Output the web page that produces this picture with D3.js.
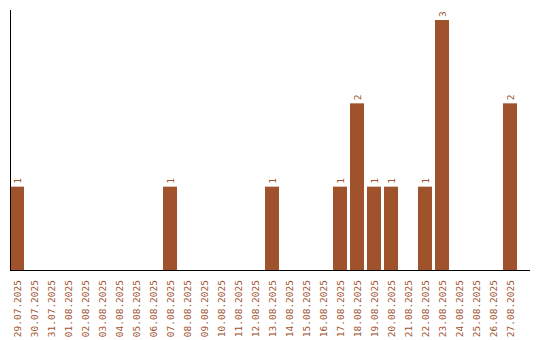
<!DOCTYPE html>
<html>
<head>
<meta charset="utf-8">
<script src="https://cdn.jsdelivr.net/npm/d3@7"></script>
<style>
  body { margin: 0; background: #fff; }
  svg text { font-family: "DejaVu Sans Mono", monospace; font-size: 9.5px; fill: #a0522d; }
</style>
</head>
<body>
<div id="chart"></div>
<script>
const dates = [
  '29.07.2025', '30.07.2025', '31.07.2025', '01.08.2025', '02.08.2025', '03.08.2025',
  '04.08.2025', '05.08.2025', '06.08.2025', '07.08.2025', '08.08.2025', '09.08.2025',
  '10.08.2025', '11.08.2025', '12.08.2025', '13.08.2025', '14.08.2025', '15.08.2025',
  '16.08.2025', '17.08.2025', '18.08.2025', '19.08.2025', '20.08.2025', '21.08.2025',
  '22.08.2025', '23.08.2025', '24.08.2025', '25.08.2025', '26.08.2025', '27.08.2025'
];
const counts = [
  1, 0, 0, 0, 0, 0,
  0, 0, 0, 1, 0, 0,
  0, 0, 0, 1, 0, 0,
  0, 1, 2, 1, 1, 0,
  1, 3, 0, 0, 0, 2
];

const w = 540, h = 340;
const left = 10, base = 270;
const color = '#a0522d';

const svg = d3.select('#chart').append('svg').attr('width', w).attr('height', h);

// step of 17px, bars 14px wide
const x = d3.scaleBand()
  .domain(dates)
  .range([left, left + 17 * dates.length - 3])
  .paddingInner(3 / 17)
  .paddingOuter(0);

const y = d3.scaleLinear().domain([0, 3]).range([base, 20]);

svg.selectAll('rect.bar')
  .data(dates)
  .enter().append('rect')
  .attr('class', 'bar')
  .attr('x', d => x(d))
  .attr('width', x.bandwidth())
  .attr('y', (d, i) => y(counts[i]))
  .attr('height', (d, i) => base - y(counts[i]))
  .attr('fill', color);

// value labels on top of bars
svg.selectAll('text.val')
  .data(dates.filter((d, i) => counts[i] > 0))
  .enter().append('text')
  .attr('class', 'val')
  .attr('transform', d => `translate(${x(d) + x.bandwidth() / 2 + 3.5},${y(counts[dates.indexOf(d)]) - 3}) rotate(-90)`)
  .attr('text-anchor', 'start')
  .text(d => counts[dates.indexOf(d)]);

// axes lines
svg.append('line')
  .attr('x1', left + 0.5).attr('x2', left + 0.5)
  .attr('y1', 10).attr('y2', base)
  .attr('stroke', '#000');
svg.append('line')
  .attr('x1', left).attr('x2', 530)
  .attr('y1', base + 0.5).attr('y2', base + 0.5)
  .attr('stroke', '#000');

// date labels
svg.selectAll('text.tick')
  .data(dates)
  .enter().append('text')
  .attr('class', 'tick')
  .attr('transform', d => `translate(${x(d) + x.bandwidth() / 2 + 3.5},280) rotate(-90)`)
  .attr('text-anchor', 'end')
  .text(d => d);
</script>
</body>
</html>
